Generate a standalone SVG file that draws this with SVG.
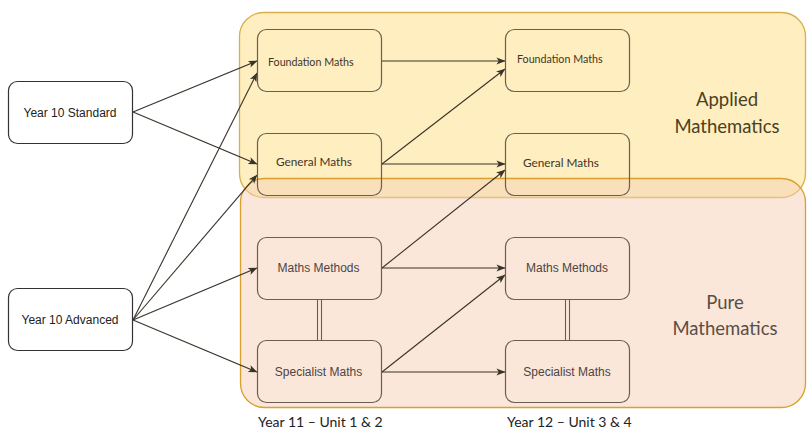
<svg xmlns="http://www.w3.org/2000/svg" width="807" height="428" viewBox="0 0 807 428">
<defs>
<marker id="arr" viewBox="0 0 10 10" refX="9.5" refY="5" markerWidth="9" markerHeight="9" markerUnits="userSpaceOnUse" orient="auto">
<path d="M0,1 L10,5 L0,9 L2.5,5 Z" fill="#3a332a"/>
</marker>
<style>
.cont-a{fill:#ffde82;fill-opacity:0.5;stroke:#d6b04a;stroke-width:1.3}
.cont-p{fill:#f5d0b5;fill-opacity:0.5;stroke:#d9a030;stroke-width:1.3}
.node-out{fill:#ffffff;stroke:#333333;stroke-width:1.2}
.node-in{fill:none;stroke:#6b5d52;stroke-width:1.2}
.edge{fill:none;stroke:#3a332a;stroke-width:1.1;marker-end:url(#arr)}
.dbl{fill:none;stroke:#6b5d52;stroke-width:1.1}
.t-out{font-family:"Liberation Sans",Arial,sans-serif;font-size:12px;fill:#222;text-anchor:middle;dominant-baseline:central}
.t-in{font-family:"Liberation Sans",Arial,sans-serif;font-size:12px;fill:#4e4440;text-anchor:middle;dominant-baseline:central}
.t-cal{font-family:Lato,"Open Sans",sans-serif;fill:#3e3528;dominant-baseline:central}
.t-big{font-family:Lato,"Open Sans",sans-serif;font-size:18.5px;text-anchor:middle}
.t-bot{font-family:Lato,"Open Sans",sans-serif;font-size:14px;fill:#222}
</style>
</defs>
<g id="applied-container">
<rect class="cont-a" x="239.5" y="12.5" width="566" height="185" rx="24"/>
<text class="t-big" x="727" y="106" fill="#4a3f22">Applied</text>
<text class="t-big" x="727" y="133" fill="#4a3f22">Mathematics</text>
</g>
<g id="pure-container">
<rect class="cont-p" x="240.5" y="178.5" width="565" height="229" rx="24"/>
<text class="t-big" x="725" y="309" fill="#5a4e44">Pure</text>
<text class="t-big" x="725" y="335" fill="#5a4e44">Mathematics</text>
</g>
<g id="connectors">
<line class="edge" x1="133" y1="112" x2="257" y2="61"/>
<line class="edge" x1="133" y1="112" x2="257" y2="164"/>
<line class="edge" x1="133" y1="320" x2="257" y2="73"/>
<line class="edge" x1="133" y1="320" x2="257" y2="175"/>
<line class="edge" x1="133" y1="320" x2="257" y2="268"/>
<line class="edge" x1="133" y1="320" x2="257" y2="372"/>
<line class="edge" x1="382" y1="61" x2="505" y2="61"/>
<line class="edge" x1="382" y1="164" x2="505" y2="69"/>
<line class="edge" x1="382" y1="164" x2="505" y2="164"/>
<line class="edge" x1="382" y1="268" x2="505" y2="170"/>
<line class="edge" x1="382" y1="268" x2="505" y2="268"/>
<line class="edge" x1="382" y1="372" x2="505" y2="275"/>
<line class="edge" x1="382" y1="372" x2="505" y2="372"/>
<line class="dbl" x1="317.5" y1="299" x2="317.5" y2="340"/>
<line class="dbl" x1="321.5" y1="299" x2="321.5" y2="340"/>
<line class="dbl" x1="565.5" y1="299" x2="565.5" y2="340"/>
<line class="dbl" x1="569.5" y1="299" x2="569.5" y2="340"/>
</g>
<g id="y10-standard">
<rect class="node-out" x="8.5" y="81.5" width="124" height="62" rx="9"/>
<text class="t-out" x="70" y="112.5">Year 10 Standard</text>
</g>
<g id="y10-advanced">
<rect class="node-out" x="8.5" y="288.5" width="124" height="62" rx="9"/>
<text class="t-out" x="70" y="319.5">Year 10 Advanced</text>
</g>
<g id="y11-foundation">
<rect class="node-in" x="257.5" y="29.5" width="124" height="62" rx="9"/>
<text class="t-cal" x="268" y="61" font-size="10.7">Foundation Maths</text>
</g>
<g id="y11-general">
<rect class="node-in" x="257.5" y="133.5" width="124" height="62" rx="9"/>
<text class="t-cal" x="276" y="161" font-size="11.8">General Maths</text>
</g>
<g id="y11-methods">
<rect class="node-in" x="257.5" y="237.5" width="124" height="62" rx="9"/>
<text class="t-in" x="318.5" y="268">Maths Methods</text>
</g>
<g id="y11-specialist">
<rect class="node-in" x="257.5" y="340.5" width="124" height="62" rx="9"/>
<text class="t-in" x="318.5" y="372">Specialist Maths</text>
</g>
<g id="y12-foundation">
<rect class="node-in" x="505.5" y="29.5" width="124" height="62" rx="9"/>
<text class="t-cal" x="517" y="58" font-size="10.7">Foundation Maths</text>
</g>
<g id="y12-general">
<rect class="node-in" x="505.5" y="133.5" width="124" height="62" rx="9"/>
<text class="t-cal" x="523" y="162" font-size="11.8">General Maths</text>
</g>
<g id="y12-methods">
<rect class="node-in" x="505.5" y="237.5" width="124" height="62" rx="9"/>
<text class="t-in" x="567" y="268">Maths Methods</text>
</g>
<g id="y12-specialist">
<rect class="node-in" x="505.5" y="340.5" width="124" height="62" rx="9"/>
<text class="t-in" x="567" y="372">Specialist Maths</text>
</g>
<g id="labels">
<text class="t-bot" x="258" y="426.5">Year 11 – Unit 1 &amp; 2</text>
<text class="t-bot" x="507" y="426.5">Year 12 – Unit 3 &amp; 4</text>
</g>
</svg>
